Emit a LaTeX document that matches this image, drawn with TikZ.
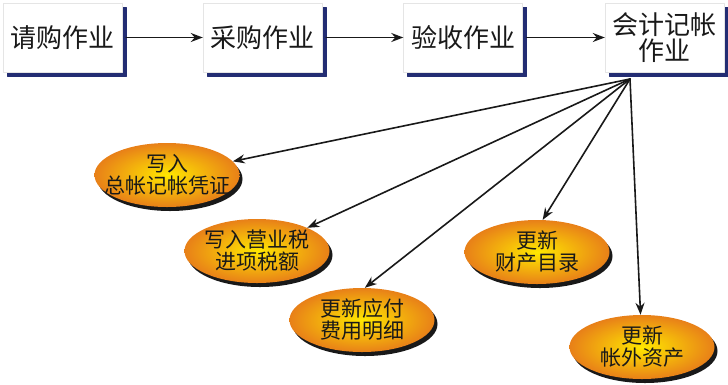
\documentclass[tikz,border=0pt]{standalone}
\usepackage{fontspec}
\newfontfamily\cjk{Noto Sans CJK SC}
\usepackage{tikz}
\usetikzlibrary{arrows.meta,shapes.geometric,shadows}
\definecolor{boxshadow}{RGB}{35,45,115}
\definecolor{ellyellow}{RGB}{255,232,0}
\definecolor{ellorange}{RGB}{232,128,24}
\definecolor{textdark}{RGB}{25,25,25}
\tikzset{
  every picture/.style={line join=round, line cap=round, >=Stealth},
  workbox/.style={rectangle, draw=black!10, fill=white, minimum width=119pt, minimum height=69pt,
    inner sep=0pt, align=center, text=textdark, font=\cjk\fontsize{26}{26}\selectfont,
    copy shadow={shadow xshift=4pt, shadow yshift=-4pt, fill=boxshadow, draw=boxshadow}},
  taskellipse/.style={ellipse, minimum width=145pt, minimum height=64pt, inner sep=0pt,
    inner color=ellyellow, outer color=ellorange,
    drop shadow={shadow xshift=3pt, shadow yshift=-4pt, fill=black, opacity=0.9}},
  tasktext/.style={align=center, text=textdark, font=\cjk\fontsize{21}{22}\selectfont},
  flowarrow/.style={-{Stealth[length=12pt,width=9pt]}, line width=1.6pt, black!90},
}
\begin{document}
\begin{tikzpicture}[x=1pt,y=-1pt]
\useasboundingbox (0,0) rectangle (728,384);
% upper row of work steps
\node[workbox] (qinggou) at (62.5,37.5) {请购作业};
\node[workbox] (caigou) at (262.5,37.5) {采购作业};
\node[workbox] (yanshou) at (463,37.5) {验收作业};
\node[workbox] (kuaiji) at (664.5,37.5) {会计记帐\\作业};
\draw[flowarrow, shorten <=4pt] (qinggou) -- (caigou);
\draw[flowarrow, shorten <=4pt] (caigou) -- (yanshou);
\draw[flowarrow, shorten <=4pt] (yanshou) -- (kuaiji);
% tasks after bookkeeping
\node[taskellipse, label={[tasktext]center:写入\\总帐记帐凭证}] (zongzhang) at (167,175) {};
\node[taskellipse, label={[tasktext]center:写入营业税\\进项税额}] (shuie) at (257,251) {};
\node[taskellipse, label={[tasktext]center:更新应付\\费用明细}] (yingfu) at (362,320) {};
\node[taskellipse, label={[tasktext]center:更新\\财产目录}] (caichan) at (537,252) {};
\node[taskellipse, label={[tasktext]center:更新\\帐外资产}] (zhangwai) at (642,347) {};
\coordinate (hub) at (630,79);
\draw[flowarrow] (hub) -- (zongzhang);
\draw[flowarrow] (hub) -- (shuie);
\draw[flowarrow] (hub) -- (yingfu.85);
\draw[flowarrow] (hub) -- (caichan.80);
\draw[flowarrow] (hub) -- (zhangwai);
\end{tikzpicture}
\end{document}
